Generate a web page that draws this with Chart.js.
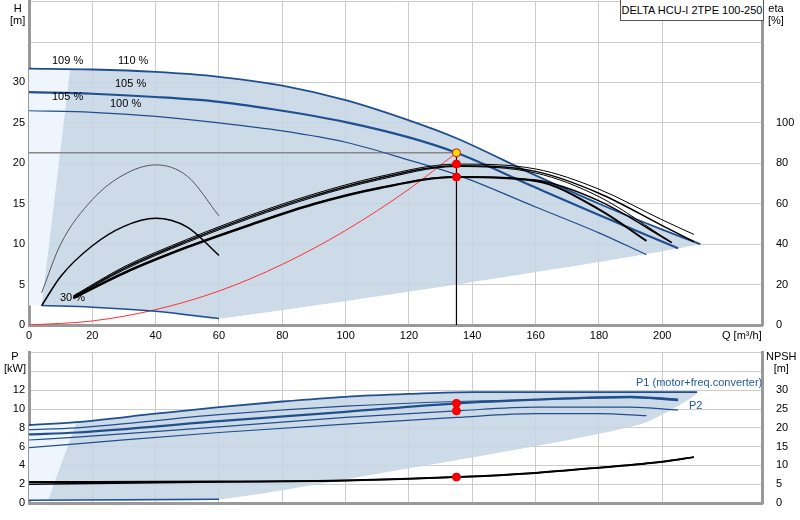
<!DOCTYPE html>
<html>
<head>
<meta charset="utf-8">
<script src="https://cdn.jsdelivr.net/npm/chart.js@4.4.1/dist/chart.umd.min.js"></script>
<style>
  body { margin: 0; background: #fff; font-family: "Liberation Sans", Arial, sans-serif; }
  #wrap { position: relative; width: 800px; height: 520px; overflow: hidden; }
  canvas { position: absolute; left: 0; }
  .lbl { position: absolute; font-size: 11px; color: #000; white-space: nowrap; }
  .blue { color: #1f5aa0; }
  #title { position: absolute; left: 620px; top: 0; width: 142px; height: 20px; border: 1px solid #555;
           border-top: none; font-size: 11px; line-height: 20px; text-align: center; background: #fff; }
</style>
</head>
<body>
<div id="wrap">
  <canvas id="bot" width="800" height="182" style="top:340px"></canvas>
  <canvas id="top" width="800" height="356" style="top:-11px"></canvas>
  <div id="title">DELTA HCU-I 2TPE 100-250</div>
  <div class="lbl" style="left:10px;top:2px;text-align:center">H<br>[m]</div>
  <div class="lbl" style="left:768px;top:2px;text-align:center">eta<br>[%]</div>
  <div class="lbl" style="left:722px;top:329px">Q [m³/h]</div>
  <div class="lbl" style="left:52px;top:54px">109 %</div>
  <div class="lbl" style="left:118px;top:54px">110 %</div>
  <div class="lbl" style="left:115px;top:77px">105 %</div>
  <div class="lbl" style="left:52px;top:90px">105 %</div>
  <div class="lbl" style="left:110px;top:97px">100 %</div>
  <div class="lbl" style="left:60px;top:291px">30 %</div>
  <div class="lbl" style="left:4px;top:350px;text-align:center">P<br>[kW]</div>
  <div class="lbl" style="left:766px;top:350px;text-align:center">NPSH<br>[m]</div>
  <div class="lbl blue" style="left:636px;top:376px">P1 (motor+freq.converter)</div>
  <div class="lbl blue" style="left:689px;top:399px">P2</div>
</div>
<script>
// ---- H curves [m]
const q110 = [0, 20, 40, 60, 80, 100, 120, 135, 160, 180, 200, 212];
const h110 = [31.7, 31.6, 31.3, 30.7, 29.6, 27.8, 25.3, 23.1, 18.5, 15, 11.8, 10];
const q105 = [0, 20, 40, 60, 80, 100, 120, 135, 160, 180, 205];
const h105 = [28.8, 28.6, 28.2, 27.6, 26.5, 25.1, 23.2, 21.3, 17.0, 13.6, 9.5];
const q100 = [0, 20, 40, 60, 80, 100, 120, 135, 160, 180, 195];
const h100 = [26.5, 26.3, 25.8, 25.0, 24.0, 22.6, 20.4, 18.6, 14.6, 11.4, 8.7];
const q30 = [4, 20, 40, 60];
const h30 = [2.4, 2.2, 1.7, 0.8];
const qSys = [0, 20, 40, 60, 80, 100, 120, 135];
const hSys = [0, 0.5, 1.9, 4.2, 7.5, 11.7, 16.8, 21.3];
const qDuty = 135, hDuty = 21.3;
const hEtaPts = [19.9, 18.3];

// ---- eta curves [%]
const qEta = [14, 30, 50, 70, 90, 110, 135, 160, 180, 200, 210];
const etaA = [14.4, 28.8, 42.4, 54.4, 64.8, 73.2, 79.6, 77.2, 67.2, 52, 44.8];
const etaB = [14, 28, 41.6, 53.6, 64, 72.4, 78.8, 76, 65.2, 49.2, 41.2];
const qEtaC = [14, 30, 50, 70, 90, 110, 135, 160, 180, 203];
const etaC = [13.6, 27.3, 40.9, 52.9, 63.3, 71.7, 78.4, 75.2, 63.5, 40.8];
const etaE = [13.4, 26, 38.8, 49.9, 60.1, 67.8, 73.4, 71.7, 61.4, 40.8];
const qEtaD = [14, 30, 50, 70, 90, 110, 135, 160, 180, 195];
const etaD = [13.2, 25.6, 38.4, 49.5, 59.7, 67.4, 73.2, 71.2, 57.2, 41.6];
const qEta30 = [4, 10, 20, 30, 40, 50, 60];
const eta30a = [16, 40, 62, 74.4, 79.2, 73.6, 54];
const eta30b = [9.6, 24, 39.2, 48.8, 52.8, 48.4, 34.4];

// ---- power [kW]
const qP1 = [0, 15, 40, 60, 80, 100, 120, 140, 180, 211];
const pMax = [8.3, 8.6, 9.5, 10.2, 10.8, 11.3, 11.6, 11.8, 11.8, 11.8];
const qP = [0, 15, 60, 100, 135, 160, 190, 205];
const pA = [7.8, 8.0, 9.4, 10.3, 10.8, 11.0, 11.2, 10.9];
const pB = [7.3, 7.5, 8.7, 9.7, 10.6, 11.0, 11.3, 11.0];
const pC = [6.7, 7.0, 8.1, 9.1, 9.8, 10.2, 10.2, 9.9];
const qP5 = [0, 15, 60, 100, 135, 160, 180, 195];
const pD = [5.9, 6.3, 7.5, 8.4, 9.1, 9.5, 9.5, 9.3];
const qP30 = [0, 60];
const p30 = [0.3, 0.4];
const pDuty = [10.6, 9.8];
// lower edge of the power range
const qPLow = [211, 195, 167, 120, 60];
const pLow = [11.8, 8.6, 6.5, 3.7, 0.4];

// ---- NPSH [m]
const qN = [0, 20, 60, 100, 135, 160, 180, 200, 210];
const npshA = [5.6, 5.6, 5.7, 6.0, 6.9, 8.0, 9.4, 11, 12.2];
const npshB = [5.0, 5.2, 5.6, 6.0, 6.9, 8.0, 9.4, 11, 12.2];
const npshDuty = 6.9;

const xy = (xs, ys) => xs.map((x, i) => ({x, y: ys[i]}));
const BLUE = '#1f4f8f', FILL = 'rgba(196,212,228,0.85)', LIGHT = '#eef5fc';

function line(data, color, width, axis, extra) {
  return Object.assign({data, showLine: true, borderColor: color, borderWidth: width, pointRadius: 0,
    tension: 0.35, cubicInterpolationMode: 'monotone', fill: false, yAxisID: axis}, extra || {});
}
function dots(data, color, axis) {
  return {data, showLine: false, pointRadius: 4, pointBackgroundColor: color,
    pointBorderColor: '#e00', yAxisID: axis};
}
function area(data, color, tension) {
  return {data, fill: 'shape', backgroundColor: color, borderWidth: 0, pointRadius: 0,
    showLine: true, tension, yAxisID: 'y'};
}

// shaded operating regions built from curve data
const darkTop = [{x: 13, y: h110[0]}].concat(xy(q110, h110).slice(1),
  xy(q30, h30).reverse());
const lightTop = [{x: 0, y: h110[0]}, {x: 13, y: h110[0]}, {x: q30[0], y: h30[0]}, {x: 0, y: h30[0]}];
const darkBot = [{x: 15, y: pMax[1]}].concat(xy(qP1, pMax).slice(2), xy(qPLow, pLow).slice(1), [{x: 6, y: 0.3}]);
const lightBot = [{x: 0, y: pMax[0]}, {x: 15, y: pMax[1]}, {x: 6, y: 0.3}, {x: 0, y: 0.3}];

const tickFont = {family: '"Liberation Sans", Arial', size: 11};
const grid = {color: '#cccccc', drawTicks: false};
const border = {color: '#999999', width: 3};

function fixW(w) { return s => { s.width = w; }; }
function fixH(h) { return s => { s.height = h; }; }
const upTo = lim => v => (v <= lim && Math.abs(v - Math.round(v)) < 1e-6) ? v : '';

new Chart(document.getElementById('top'), {
  type: 'scatter',
  data: {datasets: [
    dots([{x: qDuty, y: hDuty}], '#ffe000', 'y'),
    dots(hEtaPts.map(y => ({x: qDuty, y})), '#ff0000', 'y'),
    line(xy(qEta, etaA), '#000', 1, 'eta'),
    line(xy(qEta, etaB), '#000', 1.5, 'eta'),
    line(xy(qEtaC, etaC), '#000', 1, 'eta'),
    line(xy(qEtaC, etaE), '#000', 1.5, 'eta'),
    line(xy(qEtaD, etaD), '#000', 2, 'eta'),
    line(xy(qEta30, eta30a), '#555', 1, 'eta'),
    line(xy(qEta30, eta30b), '#000', 1.5, 'eta'),
    line(xy(q110, h110), BLUE, 1.8, 'y'),
    line(xy(q105, h105), BLUE, 2.2, 'y'),
    line(xy(q100, h100), BLUE, 1.2, 'y'),
    line(xy(q30, h30), BLUE, 1.5, 'y'),
    line(xy(qSys, hSys), '#ff3030', 1, 'y'),
    line([{x: qDuty, y: 0}, {x: qDuty, y: hDuty}], '#000', 1.2, 'y', {tension: 0}),
    line([{x: 0, y: hDuty}, {x: qDuty, y: hDuty}], '#888', 1.5, 'y', {tension: 0}),
    area(darkTop, FILL, 0.2),
    area(lightTop, LIGHT, 0)
  ]},
  options: {
    animation: false, responsive: false, events: [],
    plugins: {legend: {display: false}, tooltip: {enabled: false}},
    layout: {padding: 0},
    scales: {
      x: {type: 'linear', min: 0, max: 231.5, grid, border,
        ticks: {stepSize: 20, font: tickFont, color: '#000', padding: 4, callback: upTo(200)},
        afterFit: fixH(20)},
      y: {position: 'left', min: 0, max: 40, grid, border,
        ticks: {stepSize: 5, font: tickFont, color: '#000', padding: 4, callback: upTo(30)},
        afterFit: fixW(29)},
      eta: {position: 'right', min: 0, max: 160, grid: {display: false}, border,
        ticks: {stepSize: 20, font: tickFont, color: '#000', padding: 6, callback: upTo(100)},
        afterFit: fixW(38)}
    }
  }
});

new Chart(document.getElementById('bot'), {
  type: 'scatter',
  data: {datasets: [
    dots(pDuty.map(y => ({x: qDuty, y})), '#ff0000', 'y'),
    dots([{x: qDuty, y: npshDuty}], '#ff0000', 'npsh'),
    line(xy(qN, npshA), '#000', 2, 'npsh'),
    line(xy(qN, npshB), '#000', 1.5, 'npsh'),
    line(xy(qP1, pMax), BLUE, 1.8, 'y'),
    line(xy(qP, pA), BLUE, 1.2, 'y'),
    line(xy(qP, pB), BLUE, 2.2, 'y'),
    line(xy(qP, pC), BLUE, 1.2, 'y'),
    line(xy(qP5, pD), BLUE, 1.2, 'y'),
    line(xy(qP30, p30), BLUE, 1.5, 'y', {tension: 0}),
    area(darkBot, FILL, 0.2),
    area(lightBot, LIGHT, 0)
  ]},
  options: {
    animation: false, responsive: false, events: [],
    plugins: {legend: {display: false}, tooltip: {enabled: false}},
    layout: {padding: 0},
    scales: {
      x: {type: 'linear', min: 0, max: 231.5, grid, border,
        ticks: {stepSize: 20, display: false}, afterFit: fixH(19)},
      y: {position: 'left', min: 0, max: 16, grid, border,
        ticks: {stepSize: 2, font: tickFont, color: '#000', padding: 4, callback: upTo(12)},
        afterFit: fixW(29)},
      npsh: {position: 'right', min: 0, max: 40, grid: {display: false}, border,
        ticks: {stepSize: 5, font: tickFont, color: '#000', padding: 6, callback: upTo(30)},
        afterFit: fixW(38)}
    }
  }
});
</script>
</body>
</html>
